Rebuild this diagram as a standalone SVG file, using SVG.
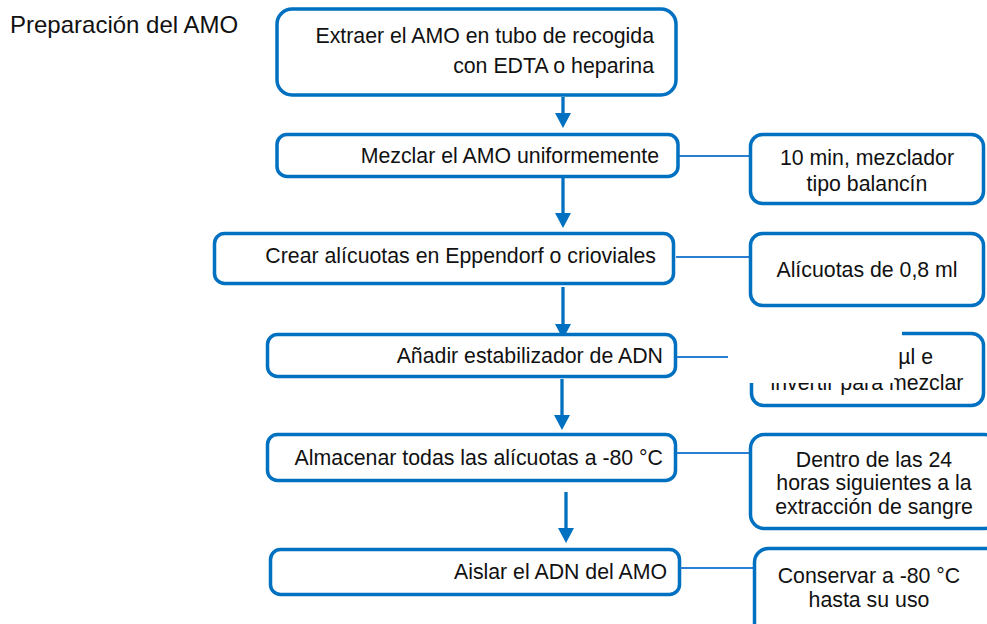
<svg xmlns="http://www.w3.org/2000/svg" width="987" height="624" viewBox="0 0 987 624">
<style>
.box{fill:#fff;stroke:#0070C0;stroke-width:3.5}
.arr{stroke:#0070C0;stroke-width:3.3;fill:none}
.con{stroke:#2A7FD2;stroke-width:2;fill:none}
text{font-family:"Liberation Sans",Arial,sans-serif;font-size:21.3px;fill:#111}
.r{text-anchor:end}
.c{text-anchor:middle}
</style>
<defs>
<marker id="ah" viewBox="0 0 15 16" refX="0" refY="8" markerWidth="15" markerHeight="16" markerUnits="userSpaceOnUse" orient="auto">
<path d="M0,0 L15,8 L0,16 z" fill="#0070C0"/>
</marker>
</defs>
<rect width="987" height="624" fill="#fff"/>
<text id="title" x="10" y="33" style="font-size:24px">Preparación del AMO</text>
<g id="connectors">
<line class="arr" x1="563" y1="97" x2="563" y2="113" marker-end="url(#ah)"/>
<line class="arr" x1="563" y1="178" x2="563" y2="213" marker-end="url(#ah)"/>
<line class="arr" x1="563" y1="287" x2="563" y2="324" marker-end="url(#ah)"/>
<line class="arr" x1="562" y1="379" x2="562" y2="415" marker-end="url(#ah)"/>
<line class="arr" x1="566" y1="492" x2="566" y2="528" marker-end="url(#ah)"/>
<line class="con" x1="679" y1="156" x2="750" y2="156"/>
<line class="con" x1="676" y1="257" x2="750" y2="257"/>
<line class="con" x1="677" y1="357" x2="751" y2="357"/>
<line class="con" x1="677" y1="453" x2="750" y2="453"/>
<line class="con" x1="681" y1="568" x2="754" y2="568"/>
</g>
<g id="n1"><rect class="box" x="277" y="9" width="399" height="86" rx="15"/>
<text class="r" x="654" y="43">Extraer el AMO en tubo de recogida</text>
<text class="r" x="654" y="73">con EDTA o heparina</text></g>
<g id="n2"><rect class="box" x="277" y="134.5" width="401" height="42" rx="10"/>
<text class="r" x="659" y="163">Mezclar el AMO uniformemente</text></g>
<g id="n3"><rect class="box" x="214.5" y="233.5" width="459" height="50" rx="10"/>
<text class="r" x="656" y="263">Crear alícuotas en Eppendorf o crioviales</text></g>
<g id="n4"><rect class="box" x="267.5" y="334.5" width="408" height="42" rx="10"/>
<text class="r" x="663" y="363">Añadir estabilizador de ADN</text></g>
<g id="n5"><rect class="box" x="267.5" y="434.5" width="408" height="46" rx="10"/>
<text class="r" x="663" y="465">Almacenar todas las alícuotas a -80 °C</text></g>
<g id="n6"><rect class="box" x="270.5" y="549.5" width="409" height="45" rx="10"/>
<text class="r" x="667" y="579">Aislar el ADN del AMO</text></g>
<g id="r1"><rect class="box" x="750.5" y="134.5" width="233" height="69" rx="12"/>
<text class="c" x="867" y="165">10 min, mezclador</text>
<text class="c" x="867" y="191">tipo balancín</text></g>
<g id="r2"><rect class="box" x="750.5" y="233.5" width="233" height="72" rx="12"/>
<text class="c" x="867" y="277">Alícuotas de 0,8 ml</text></g>
<g id="r3"><rect class="box" x="751.5" y="333.5" width="232" height="72" rx="12"/>
<text class="r" x="933" y="364">µl e</text>
<text class="c" x="867" y="390">invertir para mezclar</text>
<path d="M728,326 H902 V342 H894 V383 H728 Z" fill="#fff"/></g>
<g id="r4"><rect class="box" x="750.5" y="434.5" width="248" height="94" rx="14"/>
<text class="c" x="874" y="467">Dentro de las 24</text>
<text class="c" x="874" y="490">horas siguientes a la</text>
<text class="c" x="874" y="514">extracción de sangre</text></g>
<g id="r5"><rect class="box" x="754.5" y="548.5" width="248" height="100" rx="14"/>
<text class="c" x="869" y="583">Conservar a -80 °C</text>
<text class="c" x="869" y="607">hasta su uso</text></g>
</svg>
